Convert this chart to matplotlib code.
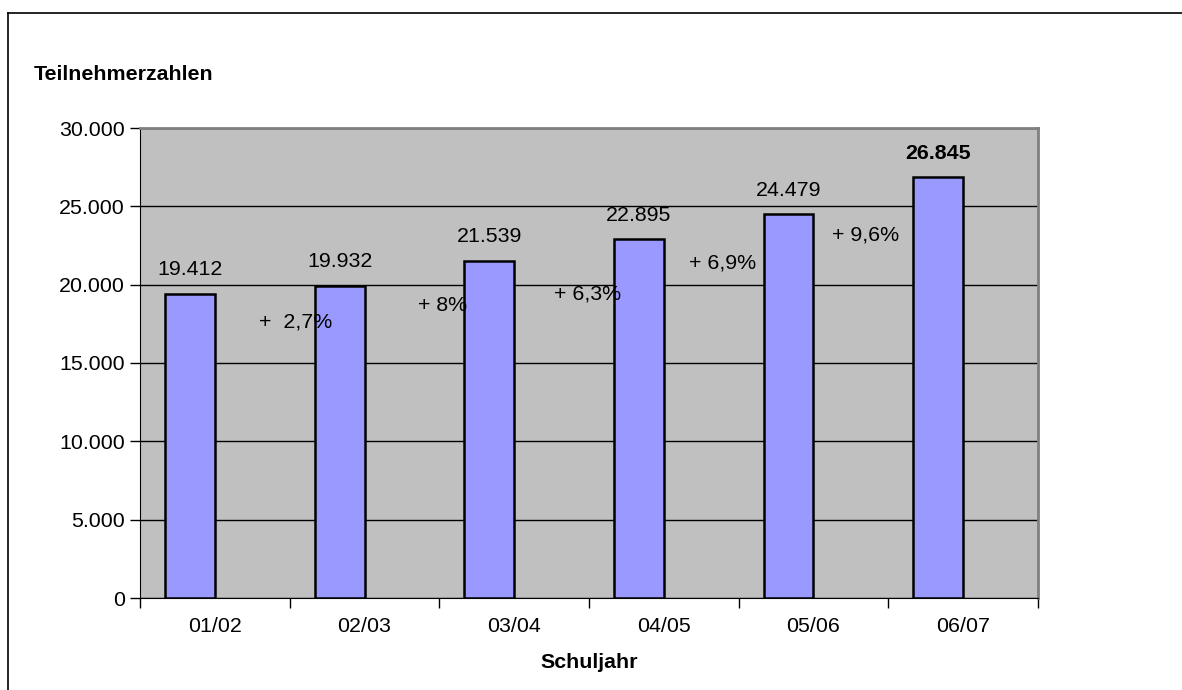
import matplotlib.pyplot as plt
from matplotlib.lines import Line2D

plt.rcParams['font.family'] = ['Liberation Sans', 'DejaVu Sans']

jahre = ['01/02', '02/03', '03/04', '04/05', '05/06', '06/07']
teilnehmer = [19412, 19932, 21539, 22895, 24479, 26845]
labels = ['19.412', '19.932', '21.539', '22.895', '24.479', '26.845']

# growth labels, placed by hand between the bars
zuwachs = ['+  2,7%', '+ 8%', '+ 6,3%', '+ 6,9%', '+ 9,6%']
zuwachs_x = [0.54, 1.52, 2.49, 3.39, 4.35]
zuwachs_y = [17600, 18700, 19400, 21400, 23170]

fs = 15.4

fig = plt.figure(figsize=(11.82, 6.9), dpi=100)
ax = fig.add_axes([140 / 1182, 92 / 690, 898 / 1182, 470 / 690])
ax.set_facecolor('#C0C0C0')

x = list(range(len(jahre)))
bw = 0.333
# bars sit left of the category centre (excel clustered layout)
xb = [i - bw / 2 for i in x]
ax.bar(xb, teilnehmer, width=bw, color='#9999FF', edgecolor='black',
       linewidth=1.8, zorder=3)

for i, v in enumerate(teilnehmer):
    bold = i == len(teilnehmer) - 1
    ax.text(xb[i], v + 1550, labels[i], ha='center', va='center', fontsize=fs,
            fontweight='bold' if bold else 'normal', zorder=4)

for t, xx, yy in zip(zuwachs, zuwachs_x, zuwachs_y):
    ax.text(xx, yy, t, ha='center', va='center', fontsize=fs, zorder=4)

ax.set_xlim(-0.5, 5.5)
ax.set_ylim(0, 30000)
ax.set_yticks(range(0, 30001, 5000))
ax.set_yticklabels(['0', '5.000', '10.000', '15.000', '20.000', '25.000', '30.000'])
ax.set_xticks([i - 0.5 for i in range(7)])
ax.set_xticklabels([])
ax.set_xticks(x, minor=True)
ax.set_xticklabels(jahre, minor=True)
ax.tick_params(axis='x', which='minor', length=0, pad=14, labelsize=fs)
ax.tick_params(axis='x', which='major', length=7, width=1, direction='out')
ax.tick_params(axis='y', length=7, width=1, labelsize=fs, pad=4)
ax.grid(axis='y', color='black', linewidth=1, zorder=1)

ax.spines['left'].set_color('black')
ax.spines['bottom'].set_color('black')
ax.spines['top'].set_color('#808080')
ax.spines['right'].set_color('#808080')
ax.spines['top'].set_linewidth(2)
ax.spines['right'].set_linewidth(2)

fig.text(34 / 1182, 1 - 75 / 690, 'Teilnehmerzahlen', fontsize=fs,
         fontweight='bold', va='center', ha='left')
fig.text(589 / 1182, 1 - 662 / 690, 'Schuljahr', fontsize=fs,
         fontweight='bold', va='center', ha='center')

# outer frame (top and left edges)
fig.add_artist(Line2D([8 / 1182, 1.0], [1 - 13 / 690, 1 - 13 / 690],
                      color='black', linewidth=1.2, transform=fig.transFigure))
fig.add_artist(Line2D([8 / 1182, 8 / 1182], [0, 1 - 13 / 690],
                      color='black', linewidth=1.2, transform=fig.transFigure))

fig.savefig('out.png', dpi=100)
